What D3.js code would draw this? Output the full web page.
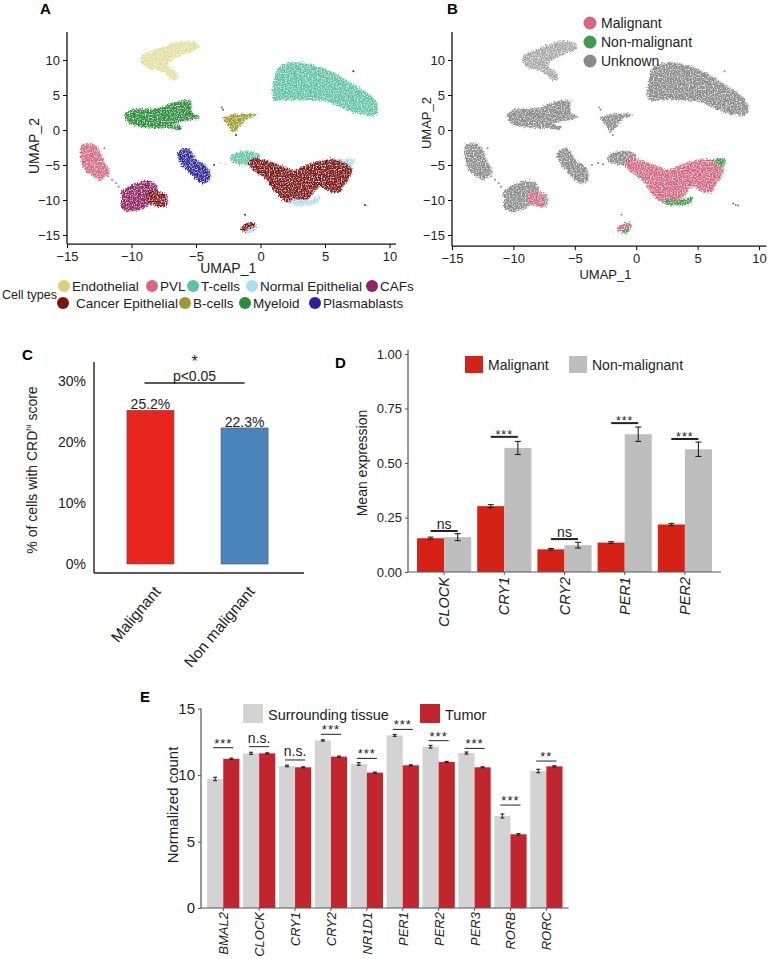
<!DOCTYPE html>
<html>
<head>
<meta charset="utf-8">
<script src="https://cdn.jsdelivr.net/npm/d3@7"></script>
<style>
  body { margin: 0; background: #fff; }
  text { font-family: "Liberation Sans", Arial, sans-serif; }
</style>
</head>
<body>
<script>
// ---------- panel A / B : UMAP ----------
const umapTicks = [-15, -10, -5, 0, 5, 10];
const cellTypes = ["Endothelial", "PVL", "T-cells", "Normal Epithelial", "CAFs",
                   "Cancer Epithelial", "B-cells", "Myeloid", "Plasmablasts"];
const cellColors = ["#d9d27b", "#d6677f", "#5fc2a2", "#a9ddf3", "#8e2462",
                    "#7a1212", "#9c9a2e", "#2f8b3c", "#2a2597"];
const cellStatus = ["Unknown", "Unknown", "Unknown", "Non-malignant", "Unknown",
                    "Malignant", "Unknown", "Unknown", "Unknown"];
const statusLabels = ["Malignant", "Non-malignant", "Unknown"];
const statusColors = ["#d4667f", "#3f9a4b", "#8a8a8a"];

// cluster outlines (UMAP_1, UMAP_2)
const endothelialHull = [[-9.2,10.5],[-8.0,11.5],[-6.2,12.6],[-5.0,12.4],[-4.8,11.7],[-5.7,11.0],[-7.0,9.8],[-7.2,9.1],[-6.6,8.4],[-6.4,7.3],[-6.8,7.2],[-7.4,8.1],[-8.1,8.6],[-8.8,8.9],[-9.2,9.6]];
const myeloidHull = [[-10.5,2.2],[-9.9,2.9],[-8.0,3.1],[-6.8,3.9],[-5.7,4.3],[-5.4,4.1],[-5.3,2.4],[-4.7,1.9],[-5.3,1.5],[-6.2,1.2],[-6.8,0.8],[-6.1,0.5],[-6.2,0.05],[-7.1,0.3],[-8.0,0.3],[-9.3,0.5],[-10.2,1.0]];
const bcellHull = [[-2.9,1.7],[-2.0,2.2],[-0.3,2.2],[-1.1,1.5],[-1.7,0.3],[-2.1,-0.3],[-2.5,0.8]];
const tcellHull = [[1.0,6.5],[1.4,8.9],[2.6,9.6],[4.0,9.3],[5.4,8.4],[7.2,6.5],[8.5,5.0],[9.1,3.6],[9.0,2.2],[8.0,2.2],[6.7,2.9],[5.1,4.1],[3.1,4.3],[2.0,4.3],[1.1,4.3],[0.9,5.3]];
const tcellSmallHull = [[-2.2,-3.6],[-1.5,-3.1],[-0.3,-3.2],[0.0,-3.6],[-0.6,-4.8],[-1.7,-4.9],[-2.3,-4.3]];
const pvlHull = [[-13.9,-2.3],[-13.4,-1.9],[-12.7,-2.3],[-12.3,-3.8],[-11.9,-5.2],[-11.7,-5.9],[-12.2,-6.9],[-12.4,-7.1],[-13.0,-6.6],[-13.6,-5.7],[-13.9,-4.2]];
const cafHull = [[-10.8,-9.0],[-9.9,-7.8],[-8.6,-7.3],[-8.0,-8.0],[-7.9,-9.2],[-7.3,-9.4],[-7.3,-10.9],[-8.0,-10.2],[-8.6,-10.7],[-9.3,-11.4],[-10.4,-11.6],[-10.8,-10.9],[-10.7,-10.0]];
const cafTendrilHull = [[-8.7,-8.9],[-7.3,-9.2],[-7.3,-9.6],[-8.0,-9.8],[-7.3,-10.8],[-7.6,-11.0],[-8.7,-10.2]];
const plasmaHull = [[-6.4,-3.3],[-6.0,-2.7],[-5.5,-2.8],[-5.0,-4.2],[-4.3,-5.0],[-3.9,-6.1],[-4.0,-7.3],[-4.6,-7.6],[-5.1,-6.9],[-5.7,-5.7],[-6.2,-4.7]];
const cancerHull = [[-0.9,-4.7],[-0.6,-4.1],[0.2,-4.2],[1.0,-4.7],[1.8,-5.2],[2.6,-5.7],[3.6,-5.0],[4.6,-4.5],[5.7,-4.2],[6.7,-4.7],[7.1,-5.7],[6.8,-7.1],[6.4,-8.0],[6.2,-8.8],[5.7,-8.9],[5.1,-8.5],[4.6,-8.0],[4.1,-9.0],[3.6,-10.0],[2.8,-10.3],[2.0,-10.2],[1.5,-9.5],[1.0,-8.5],[0.5,-7.1],[-0.3,-6.1],[-0.6,-5.7]];
const cancerSmallHull = [[-1.4,-13.7],[-0.5,-13.3],[-0.4,-13.9],[-0.9,-14.5],[-1.5,-14.3]];
const normalLowerHull = [[2.4,-10.0],[3.8,-10.0],[4.6,-9.6],[4.4,-10.4],[3.2,-10.8],[2.5,-10.6]];
const normalUpperHull = [[6.2,-4.4],[6.9,-4.1],[7.3,-4.3],[7.1,-5.3],[6.8,-4.9]];
const normalSmallHull = [[-1.0,-14.2],[-0.5,-14.0],[-0.7,-14.7],[-1.1,-14.6]];

const clusters = [
  ["Endothelial", endothelialHull], ["Myeloid", myeloidHull], ["B-cells", bcellHull],
  ["T-cells", tcellHull], ["T-cells", tcellSmallHull], ["PVL", pvlHull], ["CAFs", cafHull],
  ["Cancer Epithelial", cafTendrilHull], ["Plasmablasts", plasmaHull],
  ["Cancer Epithelial", cancerHull], ["Cancer Epithelial", cancerSmallHull],
  ["Normal Epithelial", normalLowerHull], ["Normal Epithelial", normalUpperHull],
  ["Normal Epithelial", normalSmallHull]
];
// loose cells outside the main clusters
const strayCells = [
  ["PVL", -11.8, -6.6], ["PVL", -11.5, -7.1], ["PVL", -11.2, -7.6], ["PVL", -11.0, -8.1], ["PVL", -12.1, -2.6],
  ["Plasmablasts", -3.6, -5.0], ["Normal Epithelial", -3.1, -4.7], ["Normal Epithelial", -2.7, -4.9],
  ["Normal Epithelial", 7.9, -10.5], ["Normal Epithelial", 8.3, -10.8], ["Cancer Epithelial", 8.1, -10.7],
  ["Myeloid", -3.0, 3.2], ["Myeloid", -2.9, 2.9], ["Plasmablasts", -1.9, -0.7],
  ["Cancer Epithelial", 7.2, 8.4], ["Cancer Epithelial", -1.2, -12.1], ["Myeloid", -6.3, 0.2]
];

// ---------- panel C ----------
const cGroups = ["Malignant", "Non malignant"];
const cValues = [25.2, 22.3];
const cColors = ["#e8251f", "#4b84ba"];
const cTicks = [0, 10, 20, 30];

// ---------- panel D ----------
const dGenes = ["CLOCK", "CRY1", "CRY2", "PER1", "PER2"];
const dSeries = ["Malignant", "Non-malignant"];
const dColors = ["#d42216", "#bebebe"];
const dMalignant = [0.155, 0.302, 0.104, 0.135, 0.218];
const dMalignantErr = [0.005, 0.007, 0.004, 0.004, 0.005];
const dNonMalignant = [0.160, 0.569, 0.123, 0.632, 0.563];
const dNonMalignantErr = [0.016, 0.030, 0.013, 0.033, 0.033];
const dSigText = ["ns", "***", "ns", "***", "***"];
const dSigAt = [0.188, 0.620, 0.151, 0.683, 0.610];
const dTicks = [0, 0.25, 0.5, 0.75, 1];

// ---------- panel E ----------
const eGenes = ["BMAL2", "CLOCK", "CRY1", "CRY2", "NR1D1", "PER1", "PER2", "PER3", "RORB", "RORC"];
const eSeries = ["Surrounding tissue", "Tumor"];
const eColors = ["#d3d3d3", "#c1262f"];
const eSurrounding = [9.70, 11.63, 10.68, 12.60, 10.83, 12.98, 12.13, 11.65, 6.92, 10.30];
const eSurroundingErr = [0.13, 0.08, 0.06, 0.05, 0.10, 0.07, 0.10, 0.08, 0.15, 0.13];
const eTumor = [11.22, 11.63, 10.58, 11.38, 10.18, 10.73, 10.98, 10.58, 5.54, 10.65];
const eTumorErr = [0.05, 0.04, 0.04, 0.04, 0.04, 0.04, 0.04, 0.04, 0.06, 0.05];
const eSigText = ["***", "n.s.", "n.s.", "***", "***", "***", "***", "***", "***", "**"];
const eSigAt = [12.05, 12.13, 11.13, 13.06, 11.25, 13.43, 12.58, 12.0, 7.74, 11.05];
const eTicks = [0, 5, 10, 15];

const svg = d3.select("body").append("svg")
  .attr("width", 768).attr("height", 959);

// grainy texture for the dense point clouds
const defs = svg.append("defs");
const grain = defs.append("filter").attr("id", "grain")
  .attr("filterUnits", "userSpaceOnUse")
  .attr("x", 0).attr("y", 0).attr("width", 768).attr("height", 330);
grain.append("feTurbulence").attr("type", "fractalNoise")
  .attr("baseFrequency", 0.75).attr("numOctaves", 1).attr("seed", 4).attr("result", "noise");
grain.append("feDisplacementMap").attr("in", "SourceGraphic").attr("in2", "noise")
  .attr("scale", 6).attr("xChannelSelector", "R").attr("yChannelSelector", "G").attr("result", "disp");
grain.append("feColorMatrix").attr("in", "noise").attr("type", "matrix")
  .attr("values", "0 0 0 0 0  0 0 0 0 0  0 0 0 0 0  3.2 0 0 0 -0.75").attr("result", "mask");
grain.append("feComposite").attr("in", "disp").attr("in2", "mask").attr("operator", "in");

function panelLabel(txt, x, y) {
  svg.append("text").attr("x", x).attr("y", y)
    .attr("font-size", 15).attr("font-weight", "bold").text(txt);
}

function drawUmap(xRange, colorOf, opts) {
  const x = d3.scaleLinear().domain([-15, 10]).range(xRange);
  const y = d3.scaleLinear().domain([-15, 10]).range([235, 60]);
  const g = svg.append("g");
  const line = d3.line().x(d => x(d[0])).y(d => y(d[1])).curve(d3.curveCatmullRomClosed.alpha(0.5));

  const cloud = g.append("g").attr("filter", "url(#grain)");
  cloud.selectAll("path")
    .data(clusters)
    .join("path")
    .attr("d", d => line(d[1]))
    .attr("fill", d => colorOf(d[0]))
    .attr("fill-opacity", d => d[0] === "Endothelial" ? 0.75 : 1)
    .attr("stroke", d => colorOf(d[0]))
    .attr("stroke-width", 1.5)
    .attr("stroke-dasharray", "1 2");

  g.append("g").selectAll("circle")
    .data(strayCells)
    .join("circle")
    .attr("cx", d => x(d[1]))
    .attr("cy", d => y(d[2]))
    .attr("r", 1)
    .attr("fill", d => colorOf(d[0]));

  const axisY = y(opts.axisAt);
  const gx = g.append("g").attr("transform", `translate(0,${axisY})`)
    .call(d3.axisBottom(x).tickValues(umapTicks).tickSize(4).tickSizeOuter(0).tickPadding(4));
  gx.select(".domain").remove();
  gx.selectAll("text").attr("font-size", 13).attr("fill", "#222").attr("font-family", "Liberation Sans, Arial");
  const gy = g.append("g").attr("transform", `translate(${x(-15)},0)`)
    .call(d3.axisLeft(y).tickValues(umapTicks).tickSize(4).tickSizeOuter(0).tickPadding(3));
  gy.select(".domain").remove();
  gy.selectAll("text").attr("font-size", 13).attr("fill", "#222").attr("font-family", "Liberation Sans, Arial");
  g.append("line").attr("x1", x(-15)).attr("x2", x(opts.xEnd))
    .attr("y1", axisY).attr("y2", axisY).attr("stroke", "#111").attr("stroke-width", 1.3);
  g.append("line").attr("x1", x(-15)).attr("x2", x(-15))
    .attr("y1", axisY).attr("y2", y(14)).attr("stroke", "#111").attr("stroke-width", 1.3);

  g.append("text").attr("x", d3.mean(xRange)).attr("y", opts.xLabelY)
    .attr("text-anchor", "middle").attr("font-size", opts.labelSize).attr("fill", "#222").text("UMAP_1");
  g.append("text")
    .attr("transform", `translate(${opts.yLabelX},${opts.yLabelMid}) rotate(-90)`)
    .attr("text-anchor", "middle").attr("font-size", opts.labelSize).attr("fill", "#222").text("UMAP_2");
}

// ----- A -----
panelLabel("A", 40, 14);
drawUmap([67, 389.5], t => cellColors[cellTypes.indexOf(t)],
  { axisAt: -16.3, xEnd: 10.5, xLabelY: 273, yLabelX: 39, yLabelMid: 146, labelSize: 14 });

// cell type legend, two rows
const legendRow1 = cellTypes.slice(0, 5), legendRow2 = cellTypes.slice(5);
const legendX1 = [64, 152, 193, 252, 372], legendX2 = [63, 185, 245, 315];
svg.append("text").attr("x", 2).attr("y", 299).attr("font-size", 12.5).attr("fill", "#222").text("Cell types");
[[legendRow1, legendX1, 286], [legendRow2, legendX2, 303]].forEach(([names, xs, cy]) => {
  const lg = svg.append("g").selectAll("g").data(names).join("g")
    .attr("transform", (d, i) => `translate(${xs[i]},${cy})`);
  lg.append("circle").attr("r", 6).attr("fill", d => cellColors[cellTypes.indexOf(d)]);
  lg.append("text").attr("x", d => d === "Cancer Epithelial" ? 13 : 8).attr("y", 4.5)
    .attr("font-size", 13.5).attr("fill", "#222").text(d => d);
});

// ----- B -----
panelLabel("B", 447, 14);
drawUmap([452, 759], t => statusColors[statusLabels.indexOf(cellStatus[cellTypes.indexOf(t)])],
  { axisAt: -16.6, xEnd: 10.6, xLabelY: 279, yLabelX: 431, yLabelMid: 123, labelSize: 13 });
const bLeg = svg.append("g").selectAll("g").data(statusLabels).join("g")
  .attr("transform", (d, i) => `translate(590,${23 + i * 19})`);
bLeg.append("circle").attr("r", 6.5).attr("fill", (d, i) => statusColors[i]);
bLeg.append("text").attr("x", 11).attr("y", 5).attr("font-size", 14).attr("fill", "#222").text(d => d);

// ----- C -----
panelLabel("C", 22, 360);
{
  const x = d3.scaleBand().domain(cGroups).range([94, 301]).paddingInner(0.5).paddingOuter(0.35);
  const y = d3.scaleLinear().domain([0, 30]).range([564, 381]);
  const g = svg.append("g");
  g.selectAll("rect").data(cGroups).join("rect")
    .attr("x", d => x(d)).attr("width", x.bandwidth())
    .attr("y", (d, i) => y(cValues[i])).attr("height", (d, i) => y(0) - y(cValues[i]))
    .attr("fill", (d, i) => cColors[i]).attr("stroke", "#555").attr("stroke-width", 0.6);
  g.selectAll(".val").data(cGroups).join("text")
    .attr("x", d => x(d) + x.bandwidth() / 2).attr("y", (d, i) => y(cValues[i]) - 1)
    .attr("text-anchor", "middle").attr("font-size", 14).attr("fill", "#222")
    .text((d, i) => cValues[i].toFixed(1) + "%");
  const gy = g.append("g").attr("transform", "translate(94,0)")
    .call(d3.axisLeft(y).tickValues(cTicks).tickFormat(d => d + "%").tickSize(0).tickPadding(8));
  gy.select(".domain").remove();
  gy.selectAll("text").attr("font-size", 14).attr("fill", "#222").attr("font-family", "Liberation Sans, Arial");
  g.append("line").attr("x1", 94).attr("x2", 94).attr("y1", 362).attr("y2", 573).attr("stroke", "#222").attr("stroke-width", 1.4);
  g.append("line").attr("x1", 94).attr("x2", 304).attr("y1", 573).attr("y2", 573).attr("stroke", "#222").attr("stroke-width", 1.4);
  g.selectAll(".xl").data(cGroups).join("text")
    .attr("transform", d => `translate(${x(d) + x.bandwidth() / 2 + 11},592) rotate(-50)`)
    .attr("text-anchor", "end").attr("font-size", 15.5).attr("fill", "#222").text(d => d);
  const c1 = x(cGroups[0]) + x.bandwidth() / 2 - 6, c2 = x(cGroups[1]) + x.bandwidth() / 2;
  g.append("line").attr("x1", c1).attr("x2", c2).attr("y1", 383).attr("y2", 383).attr("stroke", "#222").attr("stroke-width", 1.3);
  g.append("text").attr("x", (c1 + c2) / 2).attr("y", 381).attr("text-anchor", "middle")
    .attr("font-size", 14).attr("fill", "#222").text("p<0.05");
  g.append("text").attr("x", (c1 + c2) / 2).attr("y", 366.5).attr("text-anchor", "middle")
    .attr("font-size", 16).attr("fill", "#222").text("*");
  const yl = g.append("text").attr("transform", "translate(37,470) rotate(-90)")
    .attr("text-anchor", "middle").attr("font-size", 14).attr("fill", "#222");
  yl.append("tspan").text("% of cells with CRD");
  yl.append("tspan").attr("font-size", 8).attr("dy", -6).text("hi");
  yl.append("tspan").attr("dy", 6).text(" score");
}

// grouped bars with error bars and significance lines
function groupedBars(cfg) {
  const g = svg.append("g");
  const x = d3.scaleBand().domain(cfg.genes).range(cfg.xRange).paddingInner(0.1).paddingOuter(cfg.outer);
  const xs = d3.scaleBand().domain([0, 1]).range([0, x.bandwidth()]);
  const y = d3.scaleLinear().domain(cfg.yDomain).range(cfg.yRange);
  const rows = cfg.genes.map((gname, i) => ({ gene: gname, vals: cfg.series.map((s, k) => ({ k, v: s.values[i], e: s.err[i] })) }));

  const grp = g.selectAll(".grp").data(rows).join("g").attr("transform", d => `translate(${x(d.gene)},0)`);
  grp.selectAll("rect").data(d => d.vals).join("rect")
    .attr("x", d => xs(d.k)).attr("width", xs.bandwidth())
    .attr("y", d => y(d.v)).attr("height", d => y(0) - y(d.v))
    .attr("fill", d => cfg.colors[d.k]);
  const eb = grp.selectAll(".eb").data(d => d.vals).join("g").attr("class", "eb")
    .attr("stroke", "#222").attr("stroke-width", 1.1);
  eb.append("line").attr("x1", d => xs(d.k) + xs.bandwidth() / 2).attr("x2", d => xs(d.k) + xs.bandwidth() / 2)
    .attr("y1", d => y(d.v - d.e)).attr("y2", d => y(d.v + d.e));
  eb.append("line").attr("x1", d => xs(d.k) + xs.bandwidth() / 2 - cfg.cap).attr("x2", d => xs(d.k) + xs.bandwidth() / 2 + cfg.cap)
    .attr("y1", d => y(d.v - d.e)).attr("y2", d => y(d.v - d.e));
  eb.append("line").attr("x1", d => xs(d.k) + xs.bandwidth() / 2 - cfg.cap).attr("x2", d => xs(d.k) + xs.bandwidth() / 2 + cfg.cap)
    .attr("y1", d => y(d.v + d.e)).attr("y2", d => y(d.v + d.e));

  // significance
  cfg.genes.forEach((gname, i) => {
    const a = x(gname) + xs(0) + xs.bandwidth() / 2 - cfg.sigExtra, b = x(gname) + xs(1) + xs.bandwidth() / 2 + cfg.sigExtra;
    const ly = y(cfg.sigAt[i]);
    g.append("line").attr("x1", a).attr("x2", b).attr("y1", ly).attr("y2", ly)
      .attr("stroke", "#222").attr("stroke-width", cfg.sigWidth);
    const stars = cfg.sigText[i].includes("*");
    g.append("text").attr("x", (a + b) / 2).attr("y", stars ? ly + cfg.starDy : ly - cfg.textDy)
      .attr("text-anchor", "middle").attr("font-size", stars ? cfg.starSize : cfg.nsSize)
      .attr("letter-spacing", stars ? 1 : 0)
      .attr("fill", "#222").text(cfg.sigText[i]);
  });

  // axes
  const gx = g.append("g").attr("transform", `translate(0,${y(0)})`)
    .call(d3.axisBottom(x).tickSize(3).tickSizeOuter(0).tickFormat(""));
  gx.select(".domain").remove();
  gx.selectAll("line").attr("stroke", cfg.axisColor);
  const gy = g.append("g").attr("transform", `translate(${cfg.xRange[0]},0)`)
    .call(d3.axisLeft(y).tickValues(cfg.ticks).tickFormat(cfg.tickFormat).tickSize(3).tickSizeOuter(0).tickPadding(3));
  gy.select(".domain").remove();
  gy.selectAll("line").attr("stroke", cfg.axisColor);
  gy.selectAll("text").attr("font-size", cfg.tickSize).attr("fill", "#222").attr("font-family", "Liberation Sans, Arial");
  g.append("line").attr("x1", cfg.xRange[0]).attr("x2", cfg.xRange[1]).attr("y1", y(0)).attr("y2", y(0))
    .attr("stroke", cfg.axisColor).attr("stroke-width", 1.2);
  g.append("line").attr("x1", cfg.xRange[0]).attr("x2", cfg.xRange[0]).attr("y1", y(0)).attr("y2", y(cfg.axisTop))
    .attr("stroke", cfg.axisColor).attr("stroke-width", 1.2);

  g.selectAll(".xl").data(cfg.genes).join("text")
    .attr("transform", d => `translate(${x(d) + x.bandwidth() / 2 + cfg.labelShift},${y(0) + cfg.labelGap}) rotate(-90)`)
    .attr("text-anchor", "end").attr("font-style", "italic").attr("font-size", cfg.labelSize)
    .attr("fill", "#222").text(d => d);
  g.append("text").attr("transform", `translate(${cfg.yLabelX},${cfg.yLabelMid}) rotate(-90)`)
    .attr("text-anchor", "middle").attr("font-size", cfg.yLabelSize).attr("fill", "#222").text(cfg.yLabel);

  const lg = g.selectAll(".lg").data(cfg.seriesNames).join("g")
    .attr("transform", (d, i) => `translate(${cfg.legendX[i]},${cfg.legendY})`);
  lg.append("rect").attr("width", cfg.legendBox[0]).attr("height", cfg.legendBox[1]).attr("fill", (d, i) => cfg.colors[i]);
  lg.append("text").attr("x", cfg.legendBox[0] + 5).attr("y", cfg.legendBox[1] - 3)
    .attr("font-size", cfg.legendSize).attr("fill", "#222").text(d => d);
}

// ----- D -----
panelLabel("D", 335, 368);
groupedBars({
  genes: dGenes, xRange: [408, 721], outer: 0.15, yDomain: [0, 1], yRange: [572, 354], axisTop: 1.02,
  series: [{ values: dMalignant, err: dMalignantErr }, { values: dNonMalignant, err: dNonMalignantErr }],
  seriesNames: dSeries, colors: dColors, cap: 3, sigAt: dSigAt, sigText: dSigText, sigExtra: 0,
  sigWidth: 2, starDy: 2, textDy: 2, starSize: 12.5, nsSize: 14,
  ticks: dTicks, tickFormat: d3.format(".2f"), tickSize: 13, axisColor: "#555",
  labelShift: 5, labelGap: 5, labelSize: 14.5,
  yLabel: "Mean expression", yLabelX: 367, yLabelMid: 463, yLabelSize: 14,
  legendX: [465, 569], legendY: 356, legendBox: [18, 17], legendSize: 14
});

// ----- E -----
panelLabel("E", 140, 702);
groupedBars({
  genes: eGenes, xRange: [201, 568.6], outer: 0.17, yDomain: [0, 15], yRange: [908, 708.5], axisTop: 15,
  series: [{ values: eSurrounding, err: eSurroundingErr }, { values: eTumor, err: eTumorErr }],
  seriesNames: eSeries, colors: eColors, cap: 2, sigAt: eSigAt, sigText: eSigText, sigExtra: 2,
  sigWidth: 1, starDy: 0, textDy: 4, starSize: 13, nsSize: 14,
  ticks: eTicks, tickFormat: d3.format("d"), tickSize: 15, axisColor: "#555",
  labelShift: 5, labelGap: 4, labelSize: 13,
  yLabel: "Normalized count", yLabelX: 178, yLabelMid: 805, yLabelSize: 15,
  legendX: [243, 420], legendY: 704, legendBox: [20, 19], legendSize: 14.5
});
</script>
</body>
</html>
